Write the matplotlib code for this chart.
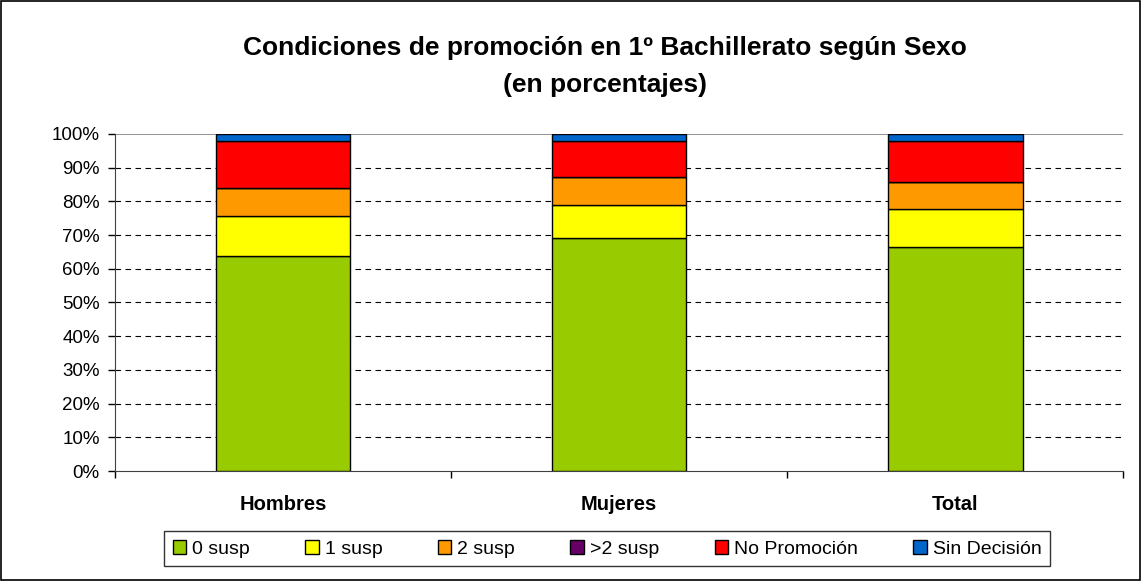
import numpy as np
import matplotlib.pyplot as plt
from matplotlib.patches import Rectangle

plt.rcParams['font.family'] = ['Liberation Sans', 'DejaVu Sans']

categorias = ['Hombres', 'Mujeres', 'Total']
series = ['0 susp', '1 susp', '2 susp', '>2 susp', 'No Promoción', 'Sin Decisión']
colores = ['#99CC00', '#FFFF00', '#FF9900', '#660066', '#FF0000', '#0066CC']

susp0 = [63.8, 69.1, 66.5]
susp1 = [12.0, 9.7, 11.2]
susp2 = [8.1, 8.3, 8.0]
susp_mas2 = [0.0, 0.0, 0.0]
no_promocion = [14.1, 10.9, 12.3]
sin_decision = [2.0, 2.0, 2.0]
valores = [susp0, susp1, susp2, susp_mas2, no_promocion, sin_decision]

fig = plt.figure(figsize=(11.41, 5.81), dpi=100)
ax = fig.add_axes([0.1008, 0.1893, 0.8838, 0.5801])

x = np.arange(len(categorias))
base = np.zeros(len(categorias))
for nombre, vals, color in zip(series, valores, colores):
    ax.bar(x, vals, width=0.4, bottom=base, color=color, edgecolor='black',
           linewidth=1.0, label=nombre, zorder=3)
    base += np.array(vals)

ax.set_xlim(-0.5, 2.5)
ax.set_ylim(0, 100)
ax.set_yticks(np.arange(0, 101, 10))
ax.set_yticklabels([f'{v}%' for v in range(0, 101, 10)], fontsize=13.5)
for v in range(10, 100, 10):
    ax.axhline(v, color='black', linestyle=(0, (5, 4)), linewidth=0.8, zorder=1)
ax.axhline(100, color='#808080', linewidth=1.2, zorder=1)

ax.set_xticks([-0.5, 0.5, 1.5, 2.5])
ax.set_xticklabels([])
ax.tick_params(axis='x', direction='out', length=5, width=1)
ax.tick_params(axis='y', direction='out', length=5, width=1, pad=6)
for i, c in enumerate(categorias):
    ax.text(i, -7.2, c, ha='center', va='top', fontsize=14.5, fontweight='bold')

for s in ['top', 'right']:
    ax.spines[s].set_visible(False)
ax.spines['left'].set_color('#404040')
ax.spines['bottom'].set_color('#404040')

fig.text(0.53, 0.918, 'Condiciones de promoción en 1º Bachillerato según Sexo',
         ha='center', va='center', fontsize=19, fontweight='bold')
fig.text(0.53, 0.853, '(en porcentajes)', ha='center', va='center',
         fontsize=19, fontweight='bold')

leg = fig.legend(loc='center', bbox_to_anchor=(0.532, 0.0555), ncol=6,
                 fontsize=14, frameon=True, fancybox=False, edgecolor='black',
                 handlelength=0.7, handleheight=0.7, handletextpad=0.3,
                 columnspacing=2.85, borderpad=0.45)
leg.get_frame().set_linewidth(1.0)

fig.patches.append(Rectangle((0.001, 0.001), 0.998, 0.998, transform=fig.transFigure,
                             fill=False, edgecolor='black', linewidth=1.2))

fig.savefig('out.png', dpi=100)
